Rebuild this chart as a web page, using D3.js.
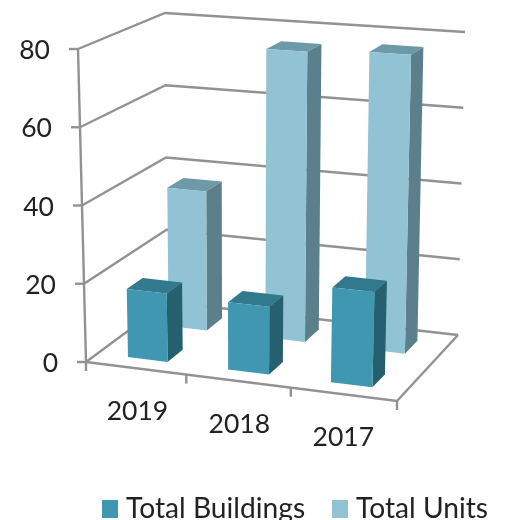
<!DOCTYPE html>
<html>
<head>
<meta charset="utf-8">
<script src="https://cdn.jsdelivr.net/npm/d3@7/dist/d3.min.js"></script>
<style>
	html, body { margin: 0; padding: 0; background: #fff; }
	svg { display: block; }
	text { font-family: Lato, sans-serif; fill: #222; }
</style>
</head>
<body>
<div class="chart"></div>
<script>
const years = ["2019", "2018", "2017"];
const seriesNames = ["Total Buildings", "Total Units"];
const totalBuildings = [17.5, 17, 23.5];
const totalUnits = [37, 76, 77];
const valueTicks = [0, 20, 40, 60, 80];

const width = 506, height = 520;

// corners of the 3d box as seen on screen
const floorCorners = { fl: [86, 362], fr: [397, 401], bl: [167, 302], br: [458, 335] };
const topCorners = { fl: [78, 49], fr: [406, 71], bl: [165, 13], br: [465, 32] };

const uScale = d3.scaleBand().domain(years).range([0, 1]).paddingInner(0.6).paddingOuter(0.32);
const vScale = d3.scaleBand().domain(seriesNames).range([0, 1]).paddingInner(0.615).paddingOuter(0.28);
const hScale = d3.scaleLinear().domain([0, 80]).range([0, 1]);
const warp = d3.scalePow().exponent(1.03).domain([0, 1]).range([0, 1]);

function corner(c, u, v) {
	return [0, 1].map(i =>
		c.fl[i] * (1 - u) * (1 - v) + c.fr[i] * u * (1 - v) + c.bl[i] * (1 - u) * v + c.br[i] * u * v);
}

function project(u, v, value) {
	let uw = warp(u);
	let a = corner(floorCorners, uw, v);
	let b = corner(topCorners, uw, v);
	let h = hScale(value);
	return [a[0] + (b[0] - a[0]) * h, a[1] + (b[1] - a[1]) * h];
}

let svg = d3.select(".chart")
	.append("svg")
	.attr("width", width)
	.attr("height", height);

// the reference is a soft, upscaled picture
svg.append("filter")
	.attr("id", "soft")
	.append("feGaussianBlur")
	.attr("stdDeviation", 0.45);

let root = svg.append("g").attr("filter", "url(#soft)");

let line = d3.line();
let gridColor = "#929292";

let grid = root.append("g")
	.attr("fill", "none")
	.attr("stroke", gridColor)
	.attr("stroke-width", 2.4);

// walls: left side then back
grid.selectAll(".grid")
	.data(valueTicks)
	.enter().append("path")
	.attr("class", "grid")
	.attr("d", d => line([project(0, 0, d), project(0, 1, d), project(1, 1, d)]));

// floor outline and the axes
grid.append("path").attr("d", line([project(0, 0, 0), project(1, 0, 0), project(1, 1, 0)]));
grid.append("path").attr("d", line([project(0, 0, 0), project(0, 0, 80)]));

grid.selectAll(".ytick")
	.data(valueTicks)
	.enter().append("path")
	.attr("class", "ytick")
	.attr("d", d => {
		let p = project(0, 0, d);
		return line([p, [p[0] - 9, p[1]]]);
	});

grid.selectAll(".xtick")
	.data([0, 1 / 3, 2 / 3, 1])
	.enter().append("path")
	.attr("class", "xtick")
	.attr("d", d => {
		let p = project(d, 0, 0);
		return line([p, [p[0], p[1] + 9]]);
	});

// bars, the back row first so the front row covers it
let palette = {
	"Total Buildings": { front: "#4097b1", side: "#266070", top: "#33798e" },
	"Total Units": { front: "#92c3d5", side: "#5c7f8c", top: "#6e99a8" }
};

function drawBars(name, values) {
	let v0 = vScale(name), v1 = v0 + vScale.bandwidth();
	let bw = uScale.bandwidth();
	let colors = palette[name];
	let g = root.append("g").attr("class", "bars");

	let bars = g.selectAll("g")
		.data(years.map((y, i) => ({ year: y, value: values[i] })))
		.enter().append("g");

	bars.append("path")
		.attr("fill", colors.top)
		.attr("d", d => {
			let u = uScale(d.year);
			return line([project(u, v0, d.value), project(u + bw, v0, d.value),
				project(u + bw, v1, d.value), project(u, v1, d.value)]) + "Z";
		});
	bars.append("path")
		.attr("fill", colors.side)
		.attr("d", d => {
			let u = uScale(d.year) + bw;
			return line([project(u, v0, 0), project(u, v1, 0),
				project(u, v1, d.value), project(u, v0, d.value)]) + "Z";
		});
	bars.append("path")
		.attr("fill", colors.front)
		.attr("d", d => {
			let u = uScale(d.year);
			return line([project(u, v0, 0), project(u + bw, v0, 0),
				project(u + bw, v0, d.value), project(u, v0, d.value)]) + "Z";
		});
}

drawBars("Total Units", totalUnits);
drawBars("Total Buildings", totalBuildings);

// value labels
root.selectAll(".ylabel")
	.data(valueTicks)
	.enter().append("text")
	.attr("class", "ylabel")
	.attr("x", d => project(0, 0, d)[0] - 28)
	.attr("y", d => project(0, 0, d)[1] + 10)
	.attr("text-anchor", "end")
	.attr("font-size", 26.5)
	.text(d => d);

// year labels sit under the front edge
root.selectAll(".xlabel")
	.data(years)
	.enter().append("text")
	.attr("class", "xlabel")
	.attr("x", d => project(uScale(d) + uScale.bandwidth() / 2, 0, 0)[0] + 1)
	.attr("y", d => project(uScale(d) + uScale.bandwidth() / 2, 0, 0)[1] + 52)
	.attr("text-anchor", "middle")
	.attr("font-size", 26.5)
	.text(d => d);

// legend
let legendX = [102, 332];
let legend = root.selectAll(".legend")
	.data(seriesNames)
	.enter().append("g")
	.attr("class", "legend")
	.attr("transform", (d, i) => "translate(" + legendX[i] + ",500)");

legend.append("rect")
	.attr("width", 16)
	.attr("height", 18)
	.attr("fill", d => palette[d].front);

legend.append("text")
	.attr("x", 24)
	.attr("y", 17.5)
	.attr("font-size", 28.2)
	.text(d => d);
</script>
</body>
</html>
